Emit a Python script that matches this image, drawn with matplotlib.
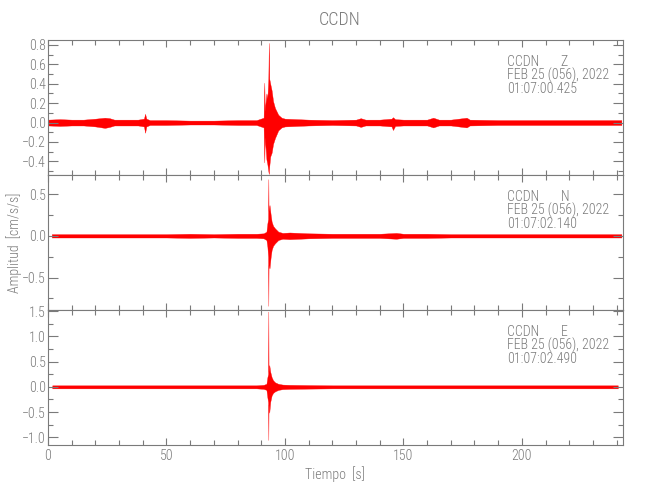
import matplotlib
matplotlib.use('Agg')
import matplotlib.pyplot as plt
from matplotlib import font_manager
from matplotlib.ticker import MultipleLocator, FuncFormatter

# pick a narrow font if one is installed
names = {f.name for f in font_manager.fontManager.ttflist}
narrow = [n for n in ['Liberation Sans Narrow', 'DejaVu Sans Condensed', 'Roboto Condensed',
                      'Open Sans Condensed', 'Noto Sans Condensed'] if n in names]
plt.rcParams['font.family'] = narrow + ['DejaVu Sans']
plt.rcParams['font.weight'] = 'light'
plt.rcParams['axes.labelweight'] = 'light'

# envelope of each trace (upper / lower amplitude), time in s
z_t = [0, 5, 10, 15, 20, 24, 26, 28, 32, 38, 40.5, 41, 41.5, 43, 50, 60, 70, 80, 88, 91,
       91.3, 91.5, 92.2, 92.6, 93.0, 93.2, 93.4, 93.8, 94.4, 95.0, 95.8, 97.2, 98.6, 100, 105,
       110, 120, 130, 132, 134, 140, 145, 145.6, 146.5, 150, 160, 162.6, 165, 170, 176.7,
       178, 190, 200, 210, 220, 230, 242]
z_up = [0.03, 0.035, 0.03, 0.03, 0.04, 0.05, 0.045, 0.03, 0.03, 0.03,
        0.04, 0.09, 0.04, 0.025, 0.025, 0.02, 0.02, 0.025, 0.025, 0.05,
        0.41, 0.12, 0.30, 0.25, 0.45, 0.82, 0.45, 0.40, 0.33, 0.22,
        0.15, 0.08, 0.05, 0.04, 0.035, 0.03, 0.025, 0.03, 0.045, 0.03,
        0.03, 0.04, 0.055, 0.035, 0.03, 0.03, 0.05, 0.03, 0.03, 0.05,
        0.03, 0.025, 0.025, 0.025, 0.025, 0.025, 0.025]
z_lo = [-0.03, -0.035, -0.03, -0.03, -0.04, -0.055, -0.045, -0.03, -0.03, -0.03,
        -0.04, -0.105, -0.04, -0.025, -0.025, -0.02, -0.02, -0.025, -0.025, -0.05,
        -0.41, -0.15, -0.38, -0.43, -0.50, -0.53, -0.45, -0.35, -0.31, -0.22,
        -0.16, -0.08, -0.05, -0.04, -0.035, -0.03, -0.025, -0.03, -0.045, -0.03,
        -0.03, -0.04, -0.077, -0.035, -0.03, -0.03, -0.05, -0.03, -0.03, -0.05,
        -0.03, -0.025, -0.025, -0.025, -0.025, -0.025, -0.025]

n_t = [1.6, 10, 20, 30, 40, 50, 60, 70, 80, 88, 91, 92.2, 92.6, 92.9, 93.0, 93.1, 93.5,
       94.0, 94.4, 95.0, 95.8, 97.2, 99, 102, 110, 120, 130, 140, 147, 150, 160, 170, 180,
       200, 220, 242]
n_up = [0.02, 0.02, 0.02, 0.02, 0.02, 0.02, 0.025, 0.02, 0.025, 0.025,
        0.03, 0.05, 0.15, 0.20, 0.68, 0.30, 0.37, 0.25, 0.17, 0.12,
        0.09, 0.05, 0.035, 0.04, 0.03, 0.025, 0.025, 0.025, 0.035, 0.025,
        0.025, 0.02, 0.02, 0.02, 0.02, 0.02]
n_lo = [-0.02, -0.02, -0.02, -0.02, -0.02, -0.02, -0.025, -0.02, -0.025, -0.025,
        -0.03, -0.05, -0.13, -0.25, -0.84, -0.35, -0.39, -0.25, -0.17, -0.12,
        -0.09, -0.05, -0.035, -0.04, -0.03, -0.025, -0.025, -0.025, -0.035, -0.025,
        -0.025, -0.02, -0.02, -0.02, -0.02, -0.02]

e_t = [1.8, 10, 20, 30, 40, 50, 60, 70, 80, 88, 91, 92.2, 92.6, 92.9, 93.0, 93.1, 93.4,
       93.8, 94.4, 95.0, 95.8, 97.2, 99, 102, 110, 120, 140, 160, 180, 200, 220, 240.5]
e_up = [0.03] * 10 + [0.04, 0.06, 0.19, 0.25, 1.49, 0.30, 0.43, 0.30, 0.19, 0.13,
                      0.09, 0.06, 0.045, 0.04, 0.035, 0.03, 0.03, 0.03, 0.03, 0.03, 0.03, 0.03]
e_lo = [-0.03] * 10 + [-0.04, -0.06, -0.21, -0.30, -1.05, -0.35, -0.51, -0.30, -0.17, -0.12,
                       -0.09, -0.06, -0.045, -0.04, -0.035, -0.03, -0.03, -0.03, -0.03, -0.03,
                       -0.03, -0.03]

components = ['Z', 'N', 'E']
start_times = ['01:07:00.425', '01:07:02.140', '01:07:02.490']
date_label = 'FEB 25 (056), 2022'
station = 'CCDN'

traces = [(z_t, z_up, z_lo), (n_t, n_up, n_lo), (e_t, e_up, e_lo)]
ylims = [(-0.54, 0.85), (-0.89, 0.73), (-1.15, 1.52)]
ymajor = [0.2, 0.5, 0.5]
yminor = [0.1, 0.25, 0.25]

gray = '#7a7a7a'
fs = 10
fig = plt.figure(figsize=(6.5, 5), dpi=100)
fig.text(0.523, 0.96, station, ha='center', va='center', fontsize=13, color=gray)

bottoms = [0.65, 0.38, 0.11]
for i in range(3):
    ax = fig.add_axes([0.0738, bottoms[i], 0.884, 0.27])
    t, up, lo = traces[i]
    ax.fill_between(t, lo, up, color='red', edgecolor='red', lw=0.25)
    ax.set_xlim(0, 242.5)
    ax.set_ylim(*ylims[i])
    ax.xaxis.set_major_locator(MultipleLocator(50))
    ax.xaxis.set_minor_locator(MultipleLocator(10))
    ax.yaxis.set_major_locator(MultipleLocator(ymajor[i]))
    ax.yaxis.set_minor_locator(MultipleLocator(yminor[i]))
    ax.tick_params(which='both', direction='in', top=True, right=True, colors=gray,
                   labelsize=fs, width=0.8)
    ax.tick_params(axis='y', which='major', length=7, pad=1.5)
    ax.tick_params(axis='y', which='minor', length=3.6)
    ax.tick_params(axis='x', which='major', length=5, pad=3)
    ax.tick_params(axis='x', which='minor', length=3.6)
    ax.yaxis.set_major_formatter(FuncFormatter(lambda v, p: ('%.1f' % v).replace('-', '\u2212')))
    for s in ax.spines.values():
        s.set_color(gray)
        s.set_linewidth(0.8)
    if i < 2:
        ax.tick_params(axis='x', labelbottom=False)
    else:
        ax.set_xlabel('Tiempo  [s]', color=gray, fontsize=fs, fontweight='light', labelpad=2)
    ax.text(0.799, 0.84, station + '       ' + components[i], transform=ax.transAxes,
            color=gray, fontsize=fs, va='center')
    ax.text(0.799, 0.74, date_label, transform=ax.transAxes, color=gray, fontsize=fs,
            va='center')
    ax.text(0.799, 0.635, start_times[i], transform=ax.transAxes, color=gray, fontsize=fs,
            va='center')

fig.text(0.022, 0.515, 'Amplitud  [cm/s/s]', rotation=90, ha='center', va='center',
         color=gray, fontsize=fs)

fig.savefig('out.png', dpi=100)
